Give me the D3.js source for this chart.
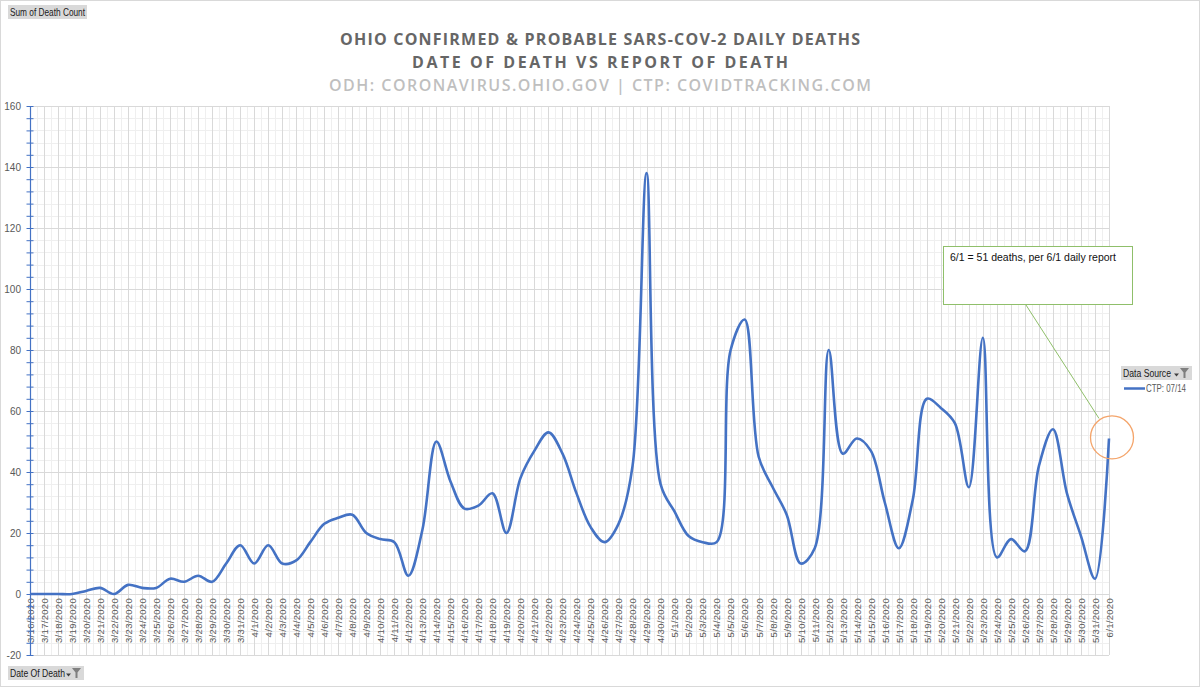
<!DOCTYPE html>
<html>
<head>
<meta charset="utf-8">
<script src="https://cdn.jsdelivr.net/npm/d3@7"></script>
<style>
  body { margin: 0; background: #fff; }
  svg { display: block; }
  .axis text { font-family: 'Liberation Sans', Arial, sans-serif; fill: #595959; }
</style>
</head>
<body>
<div id="chart"></div>
<script>
// Data
const dates = [
  '3/16/2020', '3/17/2020', '3/18/2020', '3/19/2020', '3/20/2020', '3/21/2020', '3/22/2020', '3/23/2020',
  '3/24/2020', '3/25/2020', '3/26/2020', '3/27/2020', '3/28/2020', '3/29/2020', '3/30/2020', '3/31/2020',
  '4/1/2020', '4/2/2020', '4/3/2020', '4/4/2020', '4/5/2020', '4/6/2020', '4/7/2020', '4/8/2020',
  '4/9/2020', '4/10/2020', '4/11/2020', '4/12/2020', '4/13/2020', '4/14/2020', '4/15/2020', '4/16/2020',
  '4/17/2020', '4/18/2020', '4/19/2020', '4/20/2020', '4/21/2020', '4/22/2020', '4/23/2020', '4/24/2020',
  '4/25/2020', '4/26/2020', '4/27/2020', '4/28/2020', '4/29/2020', '4/30/2020',
  '5/1/2020', '5/2/2020', '5/3/2020', '5/4/2020', '5/5/2020', '5/6/2020', '5/7/2020', '5/8/2020',
  '5/9/2020', '5/10/2020', '5/11/2020', '5/12/2020', '5/13/2020', '5/14/2020', '5/15/2020', '5/16/2020',
  '5/17/2020', '5/18/2020', '5/19/2020', '5/20/2020', '5/21/2020', '5/22/2020', '5/23/2020', '5/24/2020',
  '5/25/2020', '5/26/2020', '5/27/2020', '5/28/2020', '5/29/2020', '5/30/2020', '5/31/2020', '6/1/2020'
];

// CTP: 07/14 - sum of death count by date of death
const deaths = [
  0, 0, 0, 0, 1, 2, 0, 3, 2, 2, 5, 4, 6, 4, 10, 16,
  10, 16, 10, 11, 17, 23, 25, 26, 20, 18, 17, 6, 21, 50, 37, 28,
  29, 33, 20, 38, 47, 53, 46, 33, 22, 17, 23, 42, 138, 36,
  27, 19, 17, 17, 80, 90, 45, 35, 26, 10, 15, 80, 46, 51, 47, 30,
  15, 31, 64, 61, 56, 35, 84, 12, 18, 14, 42, 54, 33, 19, 5, 51
];

const yMajorTicks = [-20, 0, 20, 40, 60, 80, 100, 120, 140, 160];

const titleLines = [
  'OHIO CONFIRMED & PROBABLE SARS-COV-2 DAILY DEATHS',
  'DATE OF DEATH VS REPORT OF DEATH',
  'ODH: CORONAVIRUS.OHIO.GOV | CTP: COVIDTRACKING.COM'
];

const seriesName = 'CTP: 07/14';
const noteText = '6/1 = 51  deaths, per 6/1 daily report';

const W = 1200, H = 687;
const plot = { l: 30, r: 1109, t: 106, b: 655 };
const blue = '#4472c4';
const narrow = "'Liberation Sans Narrow', 'Liberation Sans', Arial, sans-serif";

const svg = d3.select('#chart')
  .append('svg')
  .attr('width', W)
  .attr('height', H);

// outer chart border
svg.append('rect')
  .attr('x', 0.5).attr('y', 0.5)
  .attr('width', W - 1).attr('height', H - 1)
  .attr('fill', '#fff')
  .attr('stroke', '#d9d9d9');

const x = d3.scalePoint(dates, [plot.l, plot.r]);
const y = d3.scaleLinear([-20, 160], [plot.b, plot.t]);
const step = x.step();

// gridlines - minor first
const grid = svg.append('g');
grid.selectAll('.hminor')
  .data(d3.range(-20, 161, 4).filter((v) => v % 20 !== 0))
  .join('line')
  .attr('x1', plot.l).attr('x2', plot.r)
  .attr('y1', (d) => Math.round(y(d)) + 0.5).attr('y2', (d) => Math.round(y(d)) + 0.5)
  .attr('stroke', '#efefef');
grid.selectAll('.vminor')
  .data(dates.slice(1))
  .join('line')
  .attr('x1', (d) => Math.round(x(d) - step / 2) + 0.5).attr('x2', (d) => Math.round(x(d) - step / 2) + 0.5)
  .attr('y1', plot.t).attr('y2', plot.b)
  .attr('stroke', '#efefef');
grid.selectAll('.hmajor')
  .data(yMajorTicks)
  .join('line')
  .attr('x1', plot.l).attr('x2', plot.r)
  .attr('y1', (d) => Math.round(y(d)) + 0.5).attr('y2', (d) => Math.round(y(d)) + 0.5)
  .attr('stroke', '#d9d9d9');
grid.selectAll('.vmajor')
  .data(dates)
  .join('line')
  .attr('x1', (d) => Math.round(x(d)) + 0.5).attr('x2', (d) => Math.round(x(d)) + 0.5)
  .attr('y1', plot.t).attr('y2', plot.b)
  .attr('stroke', '#d9d9d9');

// x axis labels (rotated)
const xAxis = svg.append('g')
  .attr('class', 'axis')
  .attr('transform', `translate(0, ${y(0) + 4})`)
  .call(d3.axisBottom(x).tickSize(0).tickPadding(0));
xAxis.select('.domain').remove();
xAxis.selectAll('text')
  .attr('transform', 'rotate(-90)')
  .attr('x', 0)
  .attr('y', 0)
  .attr('dy', '0.35em')
  .style('text-anchor', 'end')
  .style('font-size', '9.5px')
  .style('letter-spacing', '0.3px');

// y axis
const yAxis = svg.append('g')
  .attr('class', 'axis')
  .attr('transform', `translate(${plot.l}, 0)`)
  .call(d3.axisLeft(y)
    .tickValues(d3.range(-20, 161, 4))
    .tickFormat((d) => (d % 20 === 0 ? d : ''))
    .tickSizeOuter(0)
    .tickSizeInner(4)
    .tickPadding(5));
yAxis.select('.domain').attr('stroke', blue).attr('stroke-width', 1.2);
yAxis.selectAll('.tick line').attr('stroke', blue).attr('x1', -3.5).attr('x2', 3.5);
yAxis.selectAll('text').style('font-size', '10px');

// series line
const line = d3.line()
  .x((d, i) => x(dates[i]))
  .y((d) => y(d))
  .curve(d3.curveCatmullRom.alpha(0.5));

svg.append('path')
  .datum(deaths)
  .attr('fill', 'none')
  .attr('stroke', blue)
  .attr('stroke-width', 2.6)
  .attr('stroke-linejoin', 'round')
  .attr('d', line);

// titles
const titleY = [45, 68, 91];
svg.append('g')
  .selectAll('text')
  .data(titleLines)
  .join('text')
  .attr('x', 600)
  .attr('y', (d, i) => titleY[i])
  .attr('text-anchor', 'middle')
  .attr('font-family', "'Open Sans', sans-serif")
  .attr('font-weight', (d, i) => (i < 2 ? 700 : 600))
  .attr('font-size', 16)
  .attr('fill', (d, i) => (i < 2 ? '#666' : '#bfbfbf'))
  .attr('textLength', (d, i) => [520, 376, 542][i])
  .attr('lengthAdjust', 'spacing')
  .text((d) => d);

// pivot field buttons
function fieldButton(bx, by, bw, label, textW, withIcons) {
  const g = svg.append('g').attr('transform', `translate(${bx}, ${by})`);
  g.append('rect')
    .attr('width', bw).attr('height', 14)
    .attr('fill', '#d9d9d9');
  g.append('text')
    .attr('x', 2).attr('y', 10.5)
    .attr('font-family', narrow)
    .attr('font-size', 11)
    .attr('fill', '#1a1a1a')
    .attr('textLength', textW)
    .attr('lengthAdjust', 'spacingAndGlyphs')
    .text(label);
  if (withIcons) {
    g.append('path')
      .attr('d', `M${bw - 18},7.5 h5 l-2.5,3 z`)
      .attr('fill', '#404040');
    g.append('path')
      .attr('d', `M${bw - 12},2 h9 l-3.5,4.5 v5.5 h-2 v-5.5 z`)
      .attr('fill', '#7f7f7f');
  }
}
fieldButton(8, 5, 79, 'Sum of Death Count', 75, false);
fieldButton(8, 666, 76, 'Date Of Death', 55, true);
fieldButton(1121, 366, 71, 'Data Source', 48, true);

// legend
svg.append('line')
  .attr('x1', 1124).attr('x2', 1145)
  .attr('y1', 388.5).attr('y2', 388.5)
  .attr('stroke', blue).attr('stroke-width', 2.5);
svg.append('text')
  .attr('x', 1146).attr('y', 392)
  .attr('font-family', narrow)
  .attr('font-size', 10.5)
  .attr('fill', '#595959')
  .attr('textLength', 40)
  .attr('lengthAdjust', 'spacingAndGlyphs')
  .text(seriesName);

// callout
const lastDate = dates[dates.length - 1];
const lastVal = deaths[deaths.length - 1];
svg.append('line')
  .attr('x1', 1026).attr('y1', 305)
  .attr('x2', x(lastDate) - 10).attr('y2', y(lastVal) - 20)
  .attr('stroke', '#8fbf6a').attr('stroke-width', 1);
svg.append('rect')
  .attr('x', 943.5).attr('y', 246.5)
  .attr('width', 189).attr('height', 58)
  .attr('fill', '#fff')
  .attr('stroke', '#8fbf6a').attr('stroke-width', 1);
svg.append('text')
  .attr('x', 950).attr('y', 261)
  .attr('font-family', narrow)
  .attr('font-size', 11.5)
  .attr('fill', '#111')
  .attr('textLength', 166)
  .attr('lengthAdjust', 'spacingAndGlyphs')
  .text(noteText);
svg.append('circle')
  .attr('cx', x(lastDate) + 3).attr('cy', y(lastVal) - 1)
  .attr('r', 21.5)
  .attr('fill', 'none')
  .attr('stroke', '#f4a46a').attr('stroke-width', 1.3);
</script>
</body>
</html>
